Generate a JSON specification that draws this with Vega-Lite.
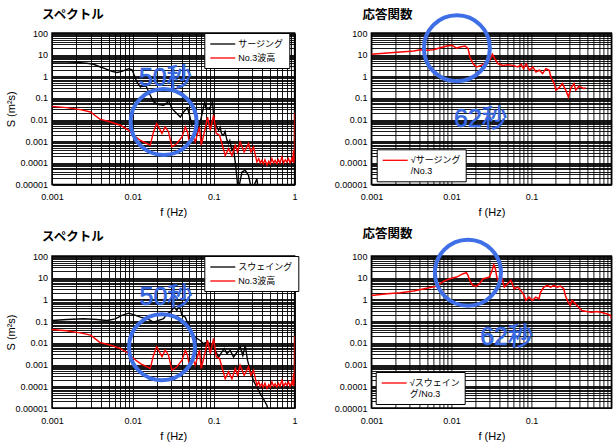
{
  "$schema": "https://vega.github.io/schema/vega-lite/v6.json",
  "background": "white",
  "padding": {"left": 4, "top": 6, "right": 0, "bottom": 3},
  "columns": 2,
  "spacing": {"row": 71, "column": 76.4},
  "bounds": "flush",
  "resolve": {"scale": {"x": "independent", "y": "independent", "color": "independent"}, "legend": {"color": "independent"}},
  "config": {
    "font": "Liberation Sans, Noto Sans CJK JP",
    "view": {"stroke": "black", "strokeWidth": 1.5},
    "axis": {"grid": true, "gridColor": "#000000", "gridOpacity": 1, "gridWidth": 0.9, "ticks": false, "tickSize": 0, "domain": false, "labelOverlap": false, "labelFontSize": 9, "labelColor": "#000000", "labelFont": "Liberation Sans", "titleFont": "Liberation Sans", "titleFontSize": 11, "titleFontWeight": "normal", "titleColor": "#000000"},
    "axisX": {"labelPadding": 8, "titlePadding": 5, "labelFlush": false},
    "axisY": {"labelPadding": 4.5},
    "title": {"font": "Noto Sans CJK JP", "fontSize": 12.5, "fontWeight": "bold", "color": "#000000", "anchor": "start", "frame": "group"},
    "legend": {"orient": "none", "strokeColor": "#000000", "fillColor": "white", "padding": 5, "labelFontSize": 9, "labelFont": "Liberation Sans, Noto Sans CJK JP", "labelColor": "#000000", "symbolType": "M-1,0H4", "symbolSize": 100, "symbolStrokeWidth": 1.3, "labelOffset": 17, "rowPadding": 3, "title": null}
  },
  "datasets": {
    "surge": [
      {"f": 0.001, "v": 4.6}, {"f": 0.0015, "v": 4.5}, {"f": 0.00204, "v": 4.4}, {"f": 0.0027, "v": 4.0}, {"f": 0.00327, "v": 3.6}, {"f": 0.00395, "v": 2.7}, {"f": 0.00436, "v": 2.4}, {"f": 0.00552, "v": 1.7}, {"f": 0.00636, "v": 1.5}, {"f": 0.00733, "v": 1.7}, {"f": 0.00887, "v": 2.26}, {"f": 0.00975, "v": 2.0}, {"f": 0.0102, "v": 1.34}, {"f": 0.0112, "v": 0.55}, {"f": 0.0124, "v": 0.32}, {"f": 0.0129, "v": 0.35}, {"f": 0.0146, "v": 0.35}, {"f": 0.0164, "v": 0.133}, {"f": 0.0181, "v": 0.065}, {"f": 0.0208, "v": 0.05}, {"f": 0.024, "v": 0.046}, {"f": 0.0264, "v": 0.059}, {"f": 0.0276, "v": 0.078}, {"f": 0.0304, "v": 0.032}, {"f": 0.0335, "v": 0.0226}, {"f": 0.0386, "v": 0.0132}, {"f": 0.0424, "v": 0.0226}, {"f": 0.0474, "v": 0.035}, {"f": 0.0502, "v": 0.016}, {"f": 0.0537, "v": 0.0055}, {"f": 0.0579, "v": 0.0078}, {"f": 0.063, "v": 0.0032}, {"f": 0.0682, "v": 0.0078}, {"f": 0.0748, "v": 0.038}, {"f": 0.0775, "v": 0.065}, {"f": 0.0806, "v": 0.032}, {"f": 0.088, "v": 0.03}, {"f": 0.0966, "v": 0.065}, {"f": 0.1014, "v": 0.0078}, {"f": 0.1148, "v": 0.0032}, {"f": 0.12, "v": 0.0045}, {"f": 0.125, "v": 0.0022}, {"f": 0.132, "v": 0.0019}, {"f": 0.138, "v": 0.0028}, {"f": 0.145, "v": 0.0012}, {"f": 0.152, "v": 0.00079}, {"f": 0.158, "v": 0.0011}, {"f": 0.168, "v": 0.00039}, {"f": 0.175, "v": 0.0005}, {"f": 0.1845, "v": 0.00011}, {"f": 0.194, "v": 0.000019}, {"f": 0.2, "v": 0.000005}, {"f": 0.2235, "v": 0.000038}, {"f": 0.245, "v": 0.000046}, {"f": 0.269, "v": 0.000027}, {"f": 0.296, "v": 0.000005}, {"f": 0.342, "v": 0.000019}, {"f": 0.355, "v": 0.000005}, {"f": 0.4, "v": 0.000003}
    ],
    "wave": [
      {"f": 0.001, "v": 0.041}, {"f": 0.0015, "v": 0.036}, {"f": 0.00224, "v": 0.029}, {"f": 0.003, "v": 0.0226}, {"f": 0.0036, "v": 0.0133}, {"f": 0.0039, "v": 0.0105}, {"f": 0.0053, "v": 0.0078}, {"f": 0.007, "v": 0.0055}, {"f": 0.0089, "v": 0.0032}, {"f": 0.0102, "v": 0.0019}, {"f": 0.0124, "v": 0.0011}, {"f": 0.0164, "v": 0.00066}, {"f": 0.018, "v": 0.0027}, {"f": 0.0197, "v": 0.0066}, {"f": 0.0229, "v": 0.0023}, {"f": 0.0251, "v": 0.0046}, {"f": 0.0276, "v": 0.0027}, {"f": 0.0304, "v": 0.00055}, {"f": 0.0351, "v": 0.00079}, {"f": 0.0405, "v": 0.0016}, {"f": 0.0445, "v": 0.0046}, {"f": 0.0474, "v": 0.0027}, {"f": 0.0502, "v": 0.00079}, {"f": 0.0553, "v": 0.0019}, {"f": 0.059, "v": 0.00093}, {"f": 0.0667, "v": 0.0046}, {"f": 0.07, "v": 0.00066}, {"f": 0.0785, "v": 0.0039}, {"f": 0.0838, "v": 0.0132}, {"f": 0.0906, "v": 0.0032}, {"f": 0.0995, "v": 0.016}, {"f": 0.1074, "v": 0.0023}, {"f": 0.118, "v": 0.0019}, {"f": 0.126, "v": 0.00079}, {"f": 0.1387, "v": 0.00022}, {"f": 0.1524, "v": 0.00046}, {"f": 0.168, "v": 0.00022}, {"f": 0.1845, "v": 0.00066}, {"f": 0.197, "v": 0.00032}, {"f": 0.212, "v": 0.00093}, {"f": 0.238, "v": 0.00032}, {"f": 0.269, "v": 0.00079}, {"f": 0.288, "v": 0.00032}, {"f": 0.31, "v": 0.00055}, {"f": 0.342, "v": 0.00011}, {"f": 0.36, "v": 0.00016}, {"f": 0.375, "v": 0.0001}, {"f": 0.394, "v": 0.000132}, {"f": 0.41, "v": 0.00009}, {"f": 0.43, "v": 0.00014}, {"f": 0.455, "v": 0.000079}, {"f": 0.48, "v": 0.00012}, {"f": 0.5, "v": 0.00009}, {"f": 0.524, "v": 0.00016}, {"f": 0.55, "v": 0.0001}, {"f": 0.575, "v": 0.00013}, {"f": 0.604, "v": 0.000093}, {"f": 0.63, "v": 0.00014}, {"f": 0.66, "v": 0.0001}, {"f": 0.697, "v": 0.00019}, {"f": 0.73, "v": 0.0001}, {"f": 0.77, "v": 0.00014}, {"f": 0.804, "v": 0.00011}, {"f": 0.84, "v": 0.00016}, {"f": 0.88, "v": 0.0001}, {"f": 0.927, "v": 0.00016}, {"f": 0.95, "v": 0.00011}, {"f": 0.97, "v": 0.00039}, {"f": 0.985, "v": 0.0001}, {"f": 0.995, "v": 0.0002}, {"f": 1.0, "v": 0.02}
    ],
    "sway": [
      {"f": 0.001, "v": 0.107}, {"f": 0.00153, "v": 0.119}, {"f": 0.00246, "v": 0.128}, {"f": 0.0036, "v": 0.119}, {"f": 0.00478, "v": 0.107}, {"f": 0.00607, "v": 0.128}, {"f": 0.00733, "v": 0.183}, {"f": 0.00887, "v": 0.234}, {"f": 0.0102, "v": 0.2}, {"f": 0.0124, "v": 0.153}, {"f": 0.015, "v": 0.129}, {"f": 0.018, "v": 0.09}, {"f": 0.0208, "v": 0.108}, {"f": 0.024, "v": 0.129}, {"f": 0.0264, "v": 0.219}, {"f": 0.029, "v": 0.26}, {"f": 0.0325, "v": 0.44}, {"f": 0.035, "v": 0.31}, {"f": 0.0375, "v": 0.53}, {"f": 0.0405, "v": 0.183}, {"f": 0.0445, "v": 0.153}, {"f": 0.0489, "v": 0.063}, {"f": 0.0537, "v": 0.026}, {"f": 0.059, "v": 0.018}, {"f": 0.068, "v": 0.0129}, {"f": 0.0748, "v": 0.0091}, {"f": 0.0824, "v": 0.0108}, {"f": 0.0906, "v": 0.0091}, {"f": 0.1045, "v": 0.0045}, {"f": 0.1148, "v": 0.0022}, {"f": 0.126, "v": 0.0037}, {"f": 0.135, "v": 0.0054}, {"f": 0.1455, "v": 0.0032}, {"f": 0.16, "v": 0.0045}, {"f": 0.176, "v": 0.0022}, {"f": 0.1935, "v": 0.0037}, {"f": 0.213, "v": 0.0063}, {"f": 0.229, "v": 0.0026}, {"f": 0.245, "v": 0.0076}, {"f": 0.262, "v": 0.00155}, {"f": 0.283, "v": 0.00054}, {"f": 0.31, "v": 0.00018}, {"f": 0.342, "v": 0.00009}, {"f": 0.376, "v": 0.000045}, {"f": 0.413, "v": 0.000026}, {"f": 0.455, "v": 0.000013}, {"f": 0.477, "v": 0.000006}
    ],
    "rs": [
      {"f": 0.001, "v": 10.4}, {"f": 0.00158, "v": 11.9}, {"f": 0.00231, "v": 13.3}, {"f": 0.00338, "v": 14.8}, {"f": 0.00409, "v": 17}, {"f": 0.00495, "v": 15.8}, {"f": 0.00598, "v": 17}, {"f": 0.00724, "v": 21}, {"f": 0.00876, "v": 25}, {"f": 0.0101, "v": 27}, {"f": 0.0116, "v": 20}, {"f": 0.0128, "v": 22.6}, {"f": 0.0148, "v": 25}, {"f": 0.0162, "v": 19}, {"f": 0.017, "v": 7.8}, {"f": 0.0187, "v": 3.8}, {"f": 0.0206, "v": 2.7}, {"f": 0.0238, "v": 3.2}, {"f": 0.0274, "v": 4.6}, {"f": 0.0302, "v": 5.5}, {"f": 0.0325, "v": 10.4}, {"f": 0.0348, "v": 6.5}, {"f": 0.0383, "v": 3.8}, {"f": 0.0442, "v": 3.2}, {"f": 0.0509, "v": 3.4}, {"f": 0.0587, "v": 3.2}, {"f": 0.0678, "v": 2.7}, {"f": 0.0745, "v": 3.6}, {"f": 0.0795, "v": 2.26}, {"f": 0.0859, "v": 3.8}, {"f": 0.0945, "v": 1.9}, {"f": 0.104, "v": 2.7}, {"f": 0.114, "v": 1.58}, {"f": 0.126, "v": 1.9}, {"f": 0.138, "v": 1.33}, {"f": 0.152, "v": 2.26}, {"f": 0.167, "v": 1.9}, {"f": 0.175, "v": 0.93}, {"f": 0.193, "v": 0.46}, {"f": 0.202, "v": 0.23}, {"f": 0.222, "v": 0.3}, {"f": 0.244, "v": 0.46}, {"f": 0.269, "v": 0.23}, {"f": 0.29, "v": 0.11}, {"f": 0.31, "v": 0.27}, {"f": 0.341, "v": 0.46}, {"f": 0.358, "v": 0.23}, {"f": 0.394, "v": 0.35}, {"f": 0.454, "v": 0.27}, {"f": 0.476, "v": 0.3}
    ],
    "rw": [
      {"f": 0.001, "v": 1.53}, {"f": 0.00158, "v": 1.83}, {"f": 0.00231, "v": 2.03}, {"f": 0.00338, "v": 2.43}, {"f": 0.00493, "v": 3.3}, {"f": 0.00657, "v": 4.1}, {"f": 0.00794, "v": 6.8}, {"f": 0.00957, "v": 9}, {"f": 0.0116, "v": 10.7}, {"f": 0.014, "v": 15.3}, {"f": 0.0154, "v": 17}, {"f": 0.0161, "v": 12.8}, {"f": 0.0173, "v": 6.3}, {"f": 0.0186, "v": 4.4}, {"f": 0.0205, "v": 4.1}, {"f": 0.0225, "v": 5.3}, {"f": 0.0248, "v": 9}, {"f": 0.0272, "v": 9.7}, {"f": 0.0299, "v": 10.7}, {"f": 0.0323, "v": 21.8}, {"f": 0.0339, "v": 40}, {"f": 0.0355, "v": 26}, {"f": 0.0369, "v": 10.7}, {"f": 0.0398, "v": 5.3}, {"f": 0.043, "v": 9}, {"f": 0.0459, "v": 3.7}, {"f": 0.0505, "v": 5.3}, {"f": 0.0555, "v": 7.5}, {"f": 0.0611, "v": 3.1}, {"f": 0.0671, "v": 3.7}, {"f": 0.0738, "v": 2.6}, {"f": 0.0811, "v": 1.53}, {"f": 0.0851, "v": 0.9}, {"f": 0.0935, "v": 1.28}, {"f": 0.1028, "v": 0.9}, {"f": 0.1132, "v": 1.28}, {"f": 0.1245, "v": 1.05}, {"f": 0.1303, "v": 2.18}, {"f": 0.1435, "v": 3.7}, {"f": 0.1578, "v": 4.4}, {"f": 0.1738, "v": 3.7}, {"f": 0.1905, "v": 4.4}, {"f": 0.21, "v": 3.7}, {"f": 0.2307, "v": 4.1}, {"f": 0.2535, "v": 3.1}, {"f": 0.266, "v": 1.53}, {"f": 0.287, "v": 0.75}, {"f": 0.307, "v": 0.53}, {"f": 0.321, "v": 0.9}, {"f": 0.353, "v": 0.64}, {"f": 0.389, "v": 0.44}, {"f": 0.428, "v": 0.31}, {"f": 0.493, "v": 0.28}, {"f": 0.569, "v": 0.26}, {"f": 0.656, "v": 0.28}, {"f": 0.755, "v": 0.25}, {"f": 0.871, "v": 0.22}, {"f": 0.986, "v": 0.18}, {"f": 1.0, "v": 0.13}
    ]
  },
  "concat": [
    {
      "width": 242.6, "height": 151.6,
      "title": {"text": "スペクトル", "dx": -10, "offset": 8},
      "encoding": {
        "x": {"field": "f", "type": "quantitative", "scale": {"type": "log", "domain": [0.001, 1], "nice": false}, "axis": {"title": "f (Hz)", "format": "~f", "values": [0.001,0.002,0.003,0.004,0.005,0.006,0.007,0.008,0.009,0.01,0.02,0.03,0.04,0.05,0.06,0.07,0.08,0.09,0.1,0.2,0.3,0.4,0.5,0.6,0.7,0.8,0.9,1], "labelExpr": "indexof(['0.001','0.01','0.1','1'], datum.label) >= 0 ? datum.label : ''"}},
        "y": {"field": "v", "type": "quantitative", "scale": {"type": "log", "domain": [0.00001, 100], "nice": false}, "axis": {"title": "S (m²s)", "titleX": -36, "format": "~f", "values": [0.00001,0.00002,0.00003,0.00004,0.00005,0.00006,0.00007,0.00008,0.00009,0.0001,0.0002,0.0003,0.0004,0.0005,0.0006,0.0007,0.0008,0.0009,0.001,0.002,0.003,0.004,0.005,0.006,0.007,0.008,0.009,0.01,0.02,0.03,0.04,0.05,0.06,0.07,0.08,0.09,0.1,0.2,0.3,0.4,0.5,0.6,0.7,0.8,0.9,1,2,3,4,5,6,7,8,9,10,20,30,40,50,60,70,80,90,100], "labelExpr": "indexof(['100','10','1','0.1','0.01','0.001','0.0001','0.00001'], datum.label) >= 0 ? datum.label : ''"}}
      },
      "layer": [
        {"data": {"name": "surge"}, "mark": {"type": "line", "clip": true, "strokeWidth": 1.4}, "encoding": {"color": {"datum": "サージング", "type": "nominal", "scale": {"domain": ["サージング", "No.3波高"], "range": ["#000000", "#ff0000"]}, "legend": {"legendX": 152.3, "legendY": 0}}}},
        {"data": {"name": "wave"}, "mark": {"type": "line", "clip": true, "strokeWidth": 1.4}, "encoding": {"color": {"datum": "No.3波高", "type": "nominal", "scale": {"domain": ["サージング", "No.3波高"], "range": ["#000000", "#ff0000"]}, "legend": {"legendX": 152.3, "legendY": 0}}}},
        {"data": {"values": [{"f": 0.024, "v": 0.0078}]}, "mark": {"type": "point", "shape": "circle", "filled": false, "size": 4356, "strokeWidth": 4, "color": "#3f6fe6", "opacity": 1}},
        {"data": {"values": [{"f": 0.0252, "v": 0.87, "t": "50秒"}]}, "mark": {"type": "text", "fontSize": 25, "font": "Liberation Sans, Noto Sans CJK JP", "color": "#3d6fea", "stroke": "#2656d0", "strokeWidth": 0.6}, "encoding": {"text": {"field": "t"}}}
      ]
    },
    {
      "width": 240, "height": 151.6,
      "title": {"text": "応答関数", "dx": -9, "offset": -14},
      "encoding": {
        "x": {"field": "f", "type": "quantitative", "scale": {"type": "log", "domain": [0.001, 1], "nice": false}, "axis": {"title": "f (Hz)", "format": "~f", "values": [0.001,0.002,0.003,0.004,0.005,0.006,0.007,0.008,0.009,0.01,0.02,0.03,0.04,0.05,0.06,0.07,0.08,0.09,0.1,0.2,0.3,0.4,0.5,0.6,0.7,0.8,0.9,1], "labelExpr": "indexof(['0.001','0.01','0.1'], datum.label) >= 0 ? datum.label : ''"}},
        "y": {"field": "v", "type": "quantitative", "scale": {"type": "log", "domain": [0.00001, 100], "nice": false}, "axis": {"title": null, "format": "~f", "values": [0.00001,0.00002,0.00003,0.00004,0.00005,0.00006,0.00007,0.00008,0.00009,0.0001,0.0002,0.0003,0.0004,0.0005,0.0006,0.0007,0.0008,0.0009,0.001,0.002,0.003,0.004,0.005,0.006,0.007,0.008,0.009,0.01,0.02,0.03,0.04,0.05,0.06,0.07,0.08,0.09,0.1,0.2,0.3,0.4,0.5,0.6,0.7,0.8,0.9,1,2,3,4,5,6,7,8,9,10,20,30,40,50,60,70,80,90,100], "labelExpr": "indexof(['100','10','1','0.1','0.01','0.001','0.0001','0.00001'], datum.label) >= 0 ? datum.label : ''"}}
      },
      "layer": [
        {"data": {"name": "rs"}, "mark": {"type": "line", "clip": true, "strokeWidth": 1.5}, "encoding": {"color": {"datum": "√サージング", "type": "nominal", "scale": {"domain": ["√サージング"], "range": ["#ff0000"]}, "legend": {"legendX": 5.3, "legendY": 116.3, "labelExpr": "['√サージング', '/No.3']"}}}},
        {"data": {"values": [{"f": 0.0117, "v": 20}]}, "mark": {"type": "point", "shape": "circle", "filled": false, "size": 4356, "strokeWidth": 4, "color": "#3f6fe6", "opacity": 1}},
        {"data": {"values": [{"f": 0.0231, "v": 0.0111, "t": "62秒"}]}, "mark": {"type": "text", "fontSize": 25, "font": "Liberation Sans, Noto Sans CJK JP", "color": "#3d6fea", "stroke": "#2656d0", "strokeWidth": 0.6}, "encoding": {"text": {"field": "t"}}}
      ]
    },
    {
      "width": 242.6, "height": 152,
      "title": {"text": "スペクトル", "dx": -10, "offset": 9},
      "encoding": {
        "x": {"field": "f", "type": "quantitative", "scale": {"type": "log", "domain": [0.001, 1], "nice": false}, "axis": {"title": "f (Hz)", "format": "~f", "values": [0.001,0.002,0.003,0.004,0.005,0.006,0.007,0.008,0.009,0.01,0.02,0.03,0.04,0.05,0.06,0.07,0.08,0.09,0.1,0.2,0.3,0.4,0.5,0.6,0.7,0.8,0.9,1], "labelExpr": "indexof(['0.001','0.01','0.1','1'], datum.label) >= 0 ? datum.label : ''"}},
        "y": {"field": "v", "type": "quantitative", "scale": {"type": "log", "domain": [0.00001, 100], "nice": false}, "axis": {"title": "S (m²s)", "titleX": -36, "format": "~f", "values": [0.00001,0.00002,0.00003,0.00004,0.00005,0.00006,0.00007,0.00008,0.00009,0.0001,0.0002,0.0003,0.0004,0.0005,0.0006,0.0007,0.0008,0.0009,0.001,0.002,0.003,0.004,0.005,0.006,0.007,0.008,0.009,0.01,0.02,0.03,0.04,0.05,0.06,0.07,0.08,0.09,0.1,0.2,0.3,0.4,0.5,0.6,0.7,0.8,0.9,1,2,3,4,5,6,7,8,9,10,20,30,40,50,60,70,80,90,100], "labelExpr": "indexof(['100','10','1','0.1','0.01','0.001','0.0001','0.00001'], datum.label) >= 0 ? datum.label : ''"}}
      },
      "layer": [
        {"data": {"name": "sway"}, "mark": {"type": "line", "clip": true, "strokeWidth": 1.4}, "encoding": {"color": {"datum": "スウェイング", "type": "nominal", "scale": {"domain": ["スウェイング", "No.3波高"], "range": ["#000000", "#ff0000"]}, "legend": {"legendX": 152.3, "legendY": 0}}}},
        {"data": {"name": "wave"}, "mark": {"type": "line", "clip": true, "strokeWidth": 1.4}, "encoding": {"color": {"datum": "No.3波高", "type": "nominal", "scale": {"domain": ["スウェイング", "No.3波高"], "range": ["#000000", "#ff0000"]}, "legend": {"legendX": 152.3, "legendY": 0}}}},
        {"data": {"values": [{"f": 0.0229, "v": 0.0063}]}, "mark": {"type": "point", "shape": "circle", "filled": false, "size": 4356, "strokeWidth": 4, "color": "#3f6fe6", "opacity": 1}},
        {"data": {"values": [{"f": 0.0256, "v": 1.28, "t": "50秒"}]}, "mark": {"type": "text", "fontSize": 25, "font": "Liberation Sans, Noto Sans CJK JP", "color": "#3d6fea", "stroke": "#2656d0", "strokeWidth": 0.6}, "encoding": {"text": {"field": "t"}}}
      ]
    },
    {
      "width": 240, "height": 152,
      "title": {"text": "応答関数", "dx": -9, "offset": -9},
      "encoding": {
        "x": {"field": "f", "type": "quantitative", "scale": {"type": "log", "domain": [0.001, 1], "nice": false}, "axis": {"title": "f (Hz)", "format": "~f", "values": [0.001,0.002,0.003,0.004,0.005,0.006,0.007,0.008,0.009,0.01,0.02,0.03,0.04,0.05,0.06,0.07,0.08,0.09,0.1,0.2,0.3,0.4,0.5,0.6,0.7,0.8,0.9,1], "labelExpr": "indexof(['0.001','0.01','0.1'], datum.label) >= 0 ? datum.label : ''"}},
        "y": {"field": "v", "type": "quantitative", "scale": {"type": "log", "domain": [0.00001, 100], "nice": false}, "axis": {"title": null, "format": "~f", "values": [0.00001,0.00002,0.00003,0.00004,0.00005,0.00006,0.00007,0.00008,0.00009,0.0001,0.0002,0.0003,0.0004,0.0005,0.0006,0.0007,0.0008,0.0009,0.001,0.002,0.003,0.004,0.005,0.006,0.007,0.008,0.009,0.01,0.02,0.03,0.04,0.05,0.06,0.07,0.08,0.09,0.1,0.2,0.3,0.4,0.5,0.6,0.7,0.8,0.9,1,2,3,4,5,6,7,8,9,10,20,30,40,50,60,70,80,90,100], "labelExpr": "indexof(['100','10','1','0.1','0.01','0.001','0.0001','0.00001'], datum.label) >= 0 ? datum.label : ''"}}
      },
      "layer": [
        {"data": {"name": "rw"}, "mark": {"type": "line", "clip": true, "strokeWidth": 1.5}, "encoding": {"color": {"datum": "√スウェイング", "type": "nominal", "scale": {"domain": ["√スウェイング"], "range": ["#ff0000"]}, "legend": {"legendX": 4.3, "legendY": 116, "labelExpr": "['√スウェイン', 'グ/No.3']"}}}},
        {"data": {"values": [{"f": 0.0161, "v": 17}]}, "mark": {"type": "point", "shape": "circle", "filled": false, "size": 4356, "strokeWidth": 4, "color": "#3f6fe6", "opacity": 1}},
        {"data": {"values": [{"f": 0.049, "v": 0.0183, "t": "62秒"}]}, "mark": {"type": "text", "fontSize": 25, "font": "Liberation Sans, Noto Sans CJK JP", "color": "#3d6fea", "stroke": "#2656d0", "strokeWidth": 0.6}, "encoding": {"text": {"field": "t"}}}
      ]
    }
  ]
}
